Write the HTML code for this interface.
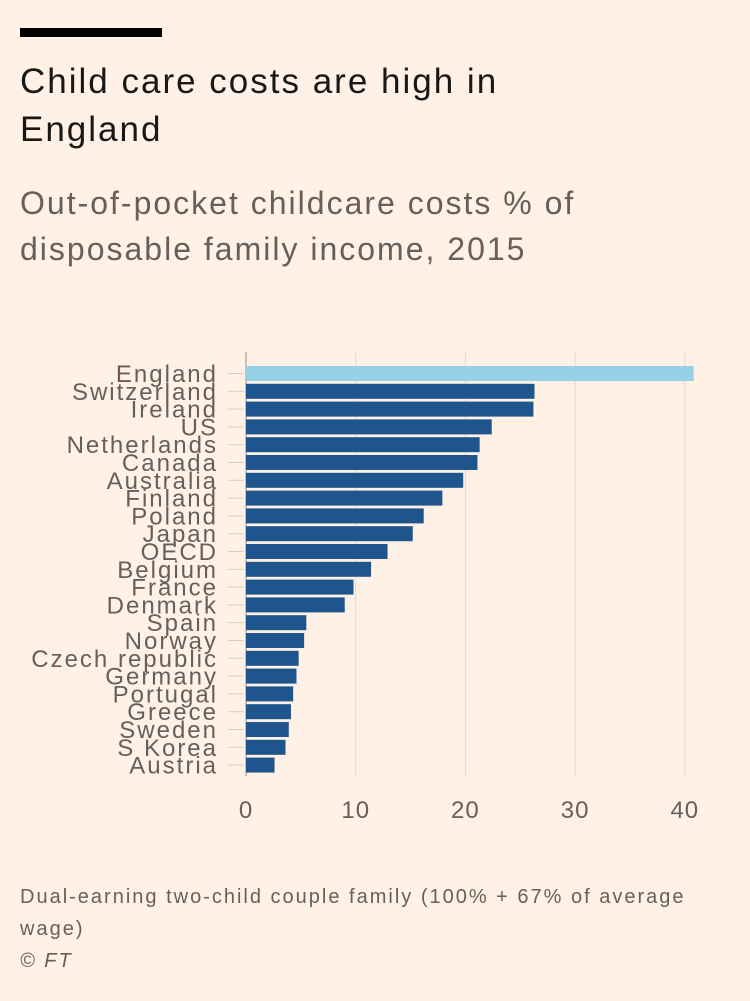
<!DOCTYPE html>
<html><head><meta charset="utf-8"><style>
body{margin:0;background:#fff1e5;font-family:"Liberation Sans",sans-serif;}
#wrap{position:relative;width:750px;height:1001px;overflow:hidden;background:#fff1e5}
.t{position:absolute;margin:0}
</style></head><body>
<div id="wrap">
<div class="t" style="left:20px;top:28px;width:142px;height:9px;background:#000"></div>
<div class="t" style="left:20px;top:58px;font-size:35px;letter-spacing:2px;line-height:48px;color:#1a1817">Child care costs are high in<br>England</div>
<div class="t" style="left:20px;top:180px;font-size:32px;letter-spacing:2px;line-height:46px;color:#66605c">Out-of-pocket childcare costs % of<br>disposable family income, 2015</div>
<svg class="t" style="left:0;top:0" width="750" height="1001">
<g id="grid"></g><g id="bars"></g><g id="labels"></g><g id="ticks"></g>
</svg>
<div class="t" style="left:20px;top:881px;font-size:20px;letter-spacing:2px;line-height:32px;color:#66605c">Dual-earning two-child couple family (100% + 67% of average<br>wage)<br><i>© FT</i></div>
</div>
<script>
const categories=["England","Switzerland","Ireland","US","Netherlands","Canada","Australia","Finland","Poland","Japan","OECD","Belgium","France","Denmark","Spain","Norway","Czech republic","Germany","Portugal","Greece","Sweden","S Korea","Austria"];
const values=[40.8,26.3,26.2,22.4,21.3,21.1,19.8,17.9,16.2,15.2,12.9,11.4,9.8,9.0,5.5,5.3,4.8,4.6,4.3,4.1,3.9,3.6,2.6];
const tickValues=[0,10,20,30,40];
const NS="http://www.w3.org/2000/svg";
const x=v=>246+v*10.97;
const y=i=>366+i*17.8;
function mk(t,a,p){const e=document.createElementNS(NS,t);for(const k in a)e.setAttribute(k,a[k]);p.appendChild(e);return e;}
const grid=document.getElementById('grid'),bars=document.getElementById('bars'),labels=document.getElementById('labels'),ticks=document.getElementById('ticks');
tickValues.forEach(v=>{
 const l=mk('line',{x1:x(v),x2:x(v),y1:352,y2:776,stroke:v===0?'#b8aea6':'#e6d9ce','stroke-width':v===0?1.5:1},grid);
 
 
 const t=mk('text',{x:x(v),y:818,'text-anchor':'middle','font-size':24,'letter-spacing':1,fill:'#66605c','font-family':'Liberation Sans, sans-serif'},ticks);
 t.textContent=v;
 
 
});
categories.forEach((c,i)=>{
 const r=mk('rect',{x:x(0),y:y(i),width:x(values[i])-x(0),height:15,fill:i===0?'#96d1e6':'#1e558c'},bars);
 
 
 mk('line',{x1:228,x2:244,y1:y(i)+7.5,y2:y(i)+7.5,stroke:'#d8ccc2','stroke-width':1},grid);
 const t=mk('text',{x:218,y:y(i)+16,'text-anchor':'end','font-size':24,'letter-spacing':2,fill:'#66605c','font-family':'Liberation Sans, sans-serif'},labels);
 t.textContent=c;
 
 
});
</script>
</body></html>
